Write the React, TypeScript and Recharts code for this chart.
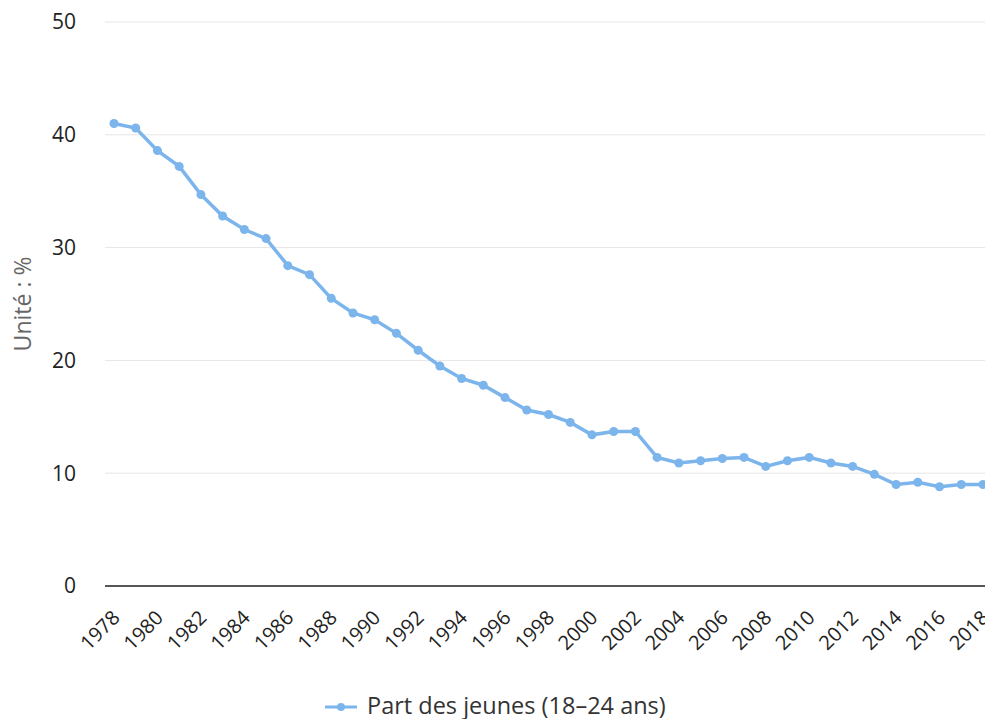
import React from 'react'
import { LineChart, Line, XAxis, YAxis, CartesianGrid } from 'recharts'

// Part des jeunes (18-24 ans), en %
const YEARS = [
  '1978','1979','1980','1981','1982','1983','1984','1985','1986','1987',
  '1988','1989','1990','1991','1992','1993','1994','1995','1996','1997',
  '1998','1999','2000','2001','2002','2003','2004','2005','2006','2007',
  '2008','2009','2010','2011','2012','2013','2014','2015','2016','2017','2018',
]
const SHARE = [
  41.0, 40.6, 38.6, 37.2, 34.7, 32.8, 31.6, 30.8, 28.4, 27.6,
  25.5, 24.2, 23.6, 22.4, 20.9, 19.5, 18.4, 17.8, 16.7, 15.6,
  15.2, 14.5, 13.4, 13.7, 13.7, 11.4, 10.9, 11.1, 11.3, 11.4,
  10.6, 11.1, 11.4, 10.9, 10.6, 9.9, 9.0, 9.2, 8.8, 9.0, 9.0,
]
const Y_TICKS = [0, 10, 20, 30, 40, 50]
const SERIES_NAME = 'Part des jeunes (18–24 ans)'

const BLUE = '#7cb5ec'
const FONT = '"Open Sans", "Noto Sans", sans-serif'

const data = YEARS.map((y, i) => ({ year: y, share: SHARE[i] }))

// rotated year labels, text end sits just right of the tick
function YearTick({ x, y, payload }: any) {
  const tx = x + 7
  const ty = y + 33
  return (
    <text x={tx} y={ty} transform={`rotate(-45, ${tx}, ${ty})`}
      textAnchor="end" fontSize={20} fill="#222" fontFamily={FONT}>
      {payload.value}
    </text>
  )
}

export default function App() {
  return (
    <div style={{ position: 'absolute', left: 0, top: 0, width: 985, height: 719, overflow: 'hidden', background: '#fff', fontFamily: FONT }}>
      <LineChart width={1000} height={760} data={data} margin={{ top: 22, right: 0, left: 0, bottom: 74 }}>
        <CartesianGrid vertical={false} stroke="#e6e6e6" />
        <XAxis dataKey="year" interval={1} height={100} tickSize={0} tickMargin={0}
          tickLine={false} axisLine={{ stroke: '#222', strokeWidth: 1.5 }}
          padding={{ left: 9, right: 17 }} tick={<YearTick />} />
        <YAxis domain={[0, 50]} ticks={Y_TICKS} width={105} tickSize={0} tickMargin={29}
          axisLine={false} tickLine={false}
          tick={{ fontSize: 21, fill: '#222', fontFamily: FONT }}
          label={{ value: 'Unité : %', angle: -90, position: 'insideLeft', offset: 23,
            style: { textAnchor: 'middle', fill: '#666', fontSize: 23, fontFamily: FONT } }} />
        <Line type="linear" dataKey="share" name={SERIES_NAME} stroke={BLUE} strokeWidth={3.5}
          dot={{ r: 4.5, fill: BLUE, stroke: BLUE, strokeWidth: 0 }} isAnimationActive={false} />
      </LineChart>
      <div style={{ position: 'absolute', left: 325, top: 689, display: 'flex', alignItems: 'center', lineHeight: '32px', fontSize: 23.5, color: '#333' }}>
        <svg width={32} height={12} style={{ marginRight: 10, marginTop: 4 }}>
          <line x1={0} y1={6} x2={32} y2={6} stroke={BLUE} strokeWidth={3} />
          <circle cx={16} cy={6} r={4} fill={BLUE} />
        </svg>
        <span>{SERIES_NAME}</span>
      </div>
    </div>
  )
}
